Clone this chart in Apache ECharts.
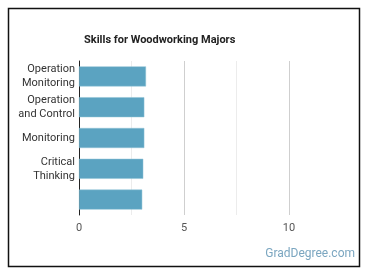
<!DOCTYPE html>
<html>
<head>
<meta charset="utf-8">
<script src="https://cdn.jsdelivr.net/npm/echarts@6/dist/echarts.min.js"></script>
<style>
  html, body { margin: 0; padding: 0; background: #fff; }
  #chart { width: 370px; height: 278px; }
</style>
</head>
<body>
<div id="chart"></div>
<script>
  // skill names, top to bottom (last label is blank in the source)
  var categories = ['Operation\nMonitoring', 'Operation\nand Control', 'Monitoring', 'Critical\nThinking', ''];
  var values = [3.19, 3.11, 3.11, 3.06, 3.01];
  var xTicks = [0, 5, 10];

  var myChart = echarts.init(document.getElementById('chart'));
  var option = {
    backgroundColor: '#fff',
    textStyle: { fontFamily: 'Roboto' },
    title: {
      text: 'Skills for Woodworking Majors',
      left: 79,
      top: 30,
      textStyle: { fontSize: 11, fontWeight: 'bold', color: '#222', fontFamily: 'Roboto' }
    },
    graphic: [
      {
        type: 'rect',
        shape: { x: 8.5, y: 8.5, width: 351, height: 258 },
        style: { fill: 'none', stroke: '#111', lineWidth: 1.5 },
        silent: true
      },
      {
        type: 'text',
        right: 15,
        top: 248,
        style: { text: 'GradDegree.com', fill: '#7ba6c0', font: '12px Roboto' }
      }
    ],
    grid: { left: 79, right: 81, top: 61, bottom: 63 },
    xAxis: {
      type: 'value',
      min: 0,
      max: 10,
      interval: 5,
      axisLine: { show: false },
      axisTick: { show: false },
      axisLabel: {
        color: '#555',
        fontSize: 11,
        margin: 8,
        formatter: function (v) { return xTicks.indexOf(v) >= 0 ? String(v) : ''; }
      },
      splitLine: { lineStyle: { color: '#cfcfcf', width: 1 } },
      minorTick: { show: false, splitNumber: 2 },
      minorSplitLine: { show: true, lineStyle: { color: '#ececec', width: 1 } }
    },
    yAxis: {
      type: 'category',
      inverse: true,
      data: categories,
      axisLine: { lineStyle: { color: '#222', width: 1 } },
      axisTick: { show: false },
      axisLabel: { color: '#333', fontSize: 11, margin: 4, lineHeight: 14 }
    },
    series: [{
      type: 'bar',
      data: values,
      barWidth: '65%',
      itemStyle: { color: '#5ba3c1', borderColor: '#8fc2d6', borderWidth: 0.5 },
      silent: true
    }]
  };
  myChart.setOption(option);
</script>
</body>
</html>
